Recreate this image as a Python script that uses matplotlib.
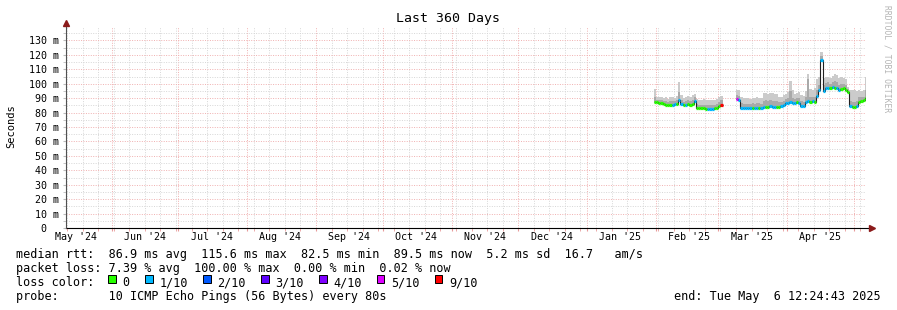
import matplotlib
matplotlib.use('Agg')
import matplotlib.pyplot as plt
import matplotlib.dates as mdates
import numpy as np
import pandas as pd
from matplotlib.patches import Rectangle
from matplotlib.ticker import MultipleLocator, FuncFormatter, NullFormatter

plt.rcParams['font.family'] = 'DejaVu Sans Mono'

# 时间范围 (最近 360 天)
range_start = '2024-05-11 12:24:43'
range_end = '2025-05-06 12:24:43'

month_labels = ["May '24", "Jun '24", "Jul '24", "Aug '24", "Sep '24", "Oct '24",
                "Nov '24", "Dec '24", "Jan '25", "Feb '25", "Mar '25", "Apr '25"]

# 第一段数据 (每天一个点)
seg1_start = '2025-01-31'
seg1_median = [87.5, 87.0, 86.8, 86.5, 86.0, 85.5, 85.5, 85.0, 85.3, 85.8,
               86.0, 88.5, 86.0, 85.2, 85.5, 85.8, 85.6, 86.0, 87.8, 83.2,
               83.0, 83.0, 83.0, 82.8, 82.5, 82.5, 82.8, 83.0, 83.2, 84.5, 85.5]
seg1_loss = [0, 0, 0, 0, 0, 0, 0, 0, 1, 1, 0, 1, 1, 0, 1, 0, 0, 0, 1, 0,
             0, 0, 0, 0, 1, 1, 1, 0, 0, 0, 9]
seg1_hi = [96.5, 91.0, 90.5, 90.8, 90.0, 90.5, 89.5, 90.5, 91.0, 90.0,
           91.5, 101.0, 92.0, 90.0, 90.5, 91.5, 90.5, 92.5, 93.0, 89.5,
           89.0, 89.0, 89.3, 89.0, 88.5, 89.0, 88.8, 89.0, 89.5, 90.5, 91.5]
seg1_mid = [90.5, 89.0, 88.5, 88.5, 88.0, 88.0, 87.5, 88.0, 88.0, 88.0,
            88.5, 94.0, 88.5, 87.5, 88.0, 88.5, 88.0, 89.0, 90.5, 86.0,
            85.5, 85.5, 85.5, 85.5, 85.0, 85.5, 85.5, 85.5, 86.0, 87.5, 88.5]

# 第二段数据
seg2_start = '2025-03-09'
seg2_median = [89.5, 89.0, 83.2, 83.0, 83.0, 83.2, 83.0, 83.5, 83.2, 83.0,
               83.5, 83.3, 84.0, 84.2, 84.0, 84.3, 84.0, 84.2, 83.8, 84.0,
               84.3, 85.5, 86.7, 86.8, 87.0, 86.5, 86.8, 87.0, 86.5, 84.5,
               84.3, 87.5, 88.0, 87.5, 87.8, 87.5, 91.5, 95.5, 116.3, 95.0,
               97.0, 97.3, 97.0, 97.5, 96.8, 97.2, 95.5, 96.5, 96.8, 95.5,
               94.0, 84.3, 84.0, 84.2, 84.3, 87.5, 87.8, 88.5, 90.0]
seg2_loss = [5, 1, 1, 1, 1, 1, 1, 0, 1, 1, 0, 1, 1, 0, 0, 1, 1, 1, 0, 0,
             1, 1, 1, 1, 1, 1, 1, 0, 1, 1, 1, 1, 1, 0, 1, 0, 1, 1, 1, 1,
             1, 1, 0, 1, 0, 1, 1, 0, 0, 0, 0, 1, 0, 0, 1, 0, 0, 0, 0]
seg2_hi = [96.0, 95.5, 90.5, 90.0, 90.0, 90.0, 89.5, 90.0, 90.0, 90.5,
           90.0, 90.0, 93.5, 93.5, 93.0, 93.5, 93.5, 93.0, 93.0, 91.0,
           91.0, 92.0, 93.0, 94.0, 102.0, 96.0, 93.0, 93.5, 94.0, 92.0,
           91.5, 95.0, 107.0, 96.5, 95.5, 97.0, 103.5, 105.0, 122.0, 104.0,
           104.5, 105.0, 104.0, 105.5, 107.0, 106.0, 104.0, 104.5, 104.0, 103.0,
           98.0, 96.0, 95.5, 95.5, 95.0, 95.5, 95.0, 96.0, 104.5]
seg2_mid = [92.0, 91.5, 86.5, 86.0, 86.0, 86.0, 86.0, 86.5, 86.0, 86.5,
            86.5, 86.0, 88.0, 88.5, 88.0, 88.5, 88.0, 88.0, 88.0, 87.0,
            87.5, 88.0, 89.5, 90.0, 95.0, 90.0, 89.5, 90.0, 90.0, 88.0,
            87.5, 90.5, 103.0, 91.0, 90.5, 91.0, 96.0, 99.0, 119.0, 99.0,
            100.5, 101.0, 100.0, 101.0, 102.0, 101.0, 99.0, 100.0, 100.0, 99.0,
            96.5, 88.0, 87.5, 87.5, 88.0, 90.5, 90.5, 91.0, 96.0]

# 丢包颜色
loss_levels = [0, 1, 2, 3, 4, 5, 9]
loss_names = ['0', '1/10', '2/10', '3/10', '4/10', '5/10', '9/10']
loss_colors = ['#26ff00', '#00b8ff', '#0059ff', '#5e00ff', '#7e00ff', '#dd00ff', '#ff0000']
color_of = dict(zip(loss_levels, loss_colors))

stat_lines = [
    'median rtt:  86.9 ms avg  115.6 ms max  82.5 ms min  89.5 ms now  5.2 ms sd  16.7   am/s',
    'packet loss: 7.39 % avg  100.00 % max  0.00 % min  0.02 % now',
]
probe_line = 'probe:       10 ICMP Echo Pings (56 Bytes) every 80s'
end_line = 'end: Tue May  6 12:24:43 2025'

W, H = 897, 310
fig = plt.figure(figsize=(W / 100, H / 100), dpi=100)
fig.patch.set_facecolor('white')
ax = fig.add_axes([66 / W, 82 / H, 800 / W, 201.4 / H])
ax.set_axisbelow(True)


def draw_segment(start, median, loss, hi, mid):
    edges = mdates.date2num(pd.date_range(start, periods=len(median) + 1, freq='D'))
    ax.stairs(hi, edges, baseline=median, fill=True, color='#cbcbcb', lw=0)
    ax.stairs(mid, edges, baseline=median, fill=True, color='#a9a9a9', lw=0)
    ax.stairs(median, edges, baseline=None, color='#202020', lw=0.8)
    ax.hlines(median, edges[:-1], edges[1:], colors=[color_of[l] for l in loss], lw=2.3)


draw_segment(seg1_start, seg1_median, seg1_loss, seg1_hi, seg1_mid)
draw_segment(seg2_start, seg2_median, seg2_loss, seg2_hi, seg2_mid)

ax.set_xlim(mdates.date2num(pd.Timestamp(range_start)), mdates.date2num(pd.Timestamp(range_end)))
ax.set_ylim(0, 139.6)
ax.xaxis_date()

ax.xaxis.set_major_locator(mdates.MonthLocator())
ax.xaxis.set_minor_locator(mdates.WeekdayLocator(byweekday=mdates.SU))
ax.xaxis.set_major_formatter(NullFormatter())
ax.yaxis.set_major_locator(MultipleLocator(10))
ax.yaxis.set_minor_locator(MultipleLocator(5))
ax.yaxis.set_major_formatter(FuncFormatter(lambda v, p: '0  ' if v == 0 else f'{v:.0f} m'))

ax.grid(which='major', color='#f0b0b0', ls=(0, (1, 1.5)), lw=0.7)
ax.grid(which='minor', color='#d6d6d6', ls=(0, (1, 1.5)), lw=0.7)
ax.tick_params(axis='x', which='both', length=2, color='#e89a9a')
ax.tick_params(axis='y', which='both', length=2, color='#bbbbbb', labelsize=7.2, pad=3)

for side in ['top', 'right', 'left', 'bottom']:
    ax.spines[side].set_visible(False)
# 坐标轴与箭头
ax.plot([0, 1.005], [0, 0], transform=ax.transAxes, color='black', lw=0.8, clip_on=False)
ax.plot([0, 0], [0, 1.005], transform=ax.transAxes, color='#505050', lw=0.8, clip_on=False)
ax.plot(1.008, 0, marker='>', ms=4, color='#8b1a1a', transform=ax.transAxes, clip_on=False)
ax.plot(0, 1.017, marker='^', ms=4, color='#8b1a1a', transform=ax.transAxes, clip_on=False)

# 月份标签 (放在每月 16 日)
label_dates = pd.date_range('2024-05-01', periods=len(month_labels), freq='MS') + pd.Timedelta(days=15)
for d, lab in zip(label_dates, month_labels):
    ax.annotate(lab, xy=(mdates.date2num(d), 0), xycoords=('data', 'axes fraction'),
                xytext=(0, -12), textcoords='offset pixels', ha='center', va='baseline',
                fontsize=7.2)


def fig_text(x, y, s, **kw):
    fig.text(x / W, 1 - y / H, s, **kw)


fig_text(448, 22, 'Last 360 Days', ha='center', va='baseline', fontsize=9.5)
fig_text(11, 126, 'Seconds', ha='center', va='center', rotation=90, fontsize=7.5)
fig_text(887, 59, 'RRDTOOL / TOBI OETIKER', ha='center', va='center', rotation=270,
         fontsize=5.8, color='#b4b4b4')

fig_text(16, 258, stat_lines[0], ha='left', va='baseline', fontsize=8.5)
fig_text(16, 272, stat_lines[1], ha='left', va='baseline', fontsize=8.5)
fig_text(16, 286, 'loss color:', ha='left', va='baseline', fontsize=8.5)
fig_text(16, 300, probe_line, ha='left', va='baseline', fontsize=8.5)
fig_text(881, 300, end_line, ha='right', va='baseline', fontsize=8.5)

# 丢包颜色图例
sx = 108.3
for name, col in zip(loss_names, loss_colors):
    fig.add_artist(Rectangle((sx / W, 1 - 282.5 / H), 7.5 / W, 7.5 / H, transform=fig.transFigure,
                             facecolor=col, edgecolor='black', lw=0.7))
    tx = sx + 14.4
    fig_text(tx, 286, name, ha='left', va='baseline', fontsize=8.5)
    sx = tx + len(name) * 7.1 + 15.2

fig.savefig('out.png', dpi=100)
